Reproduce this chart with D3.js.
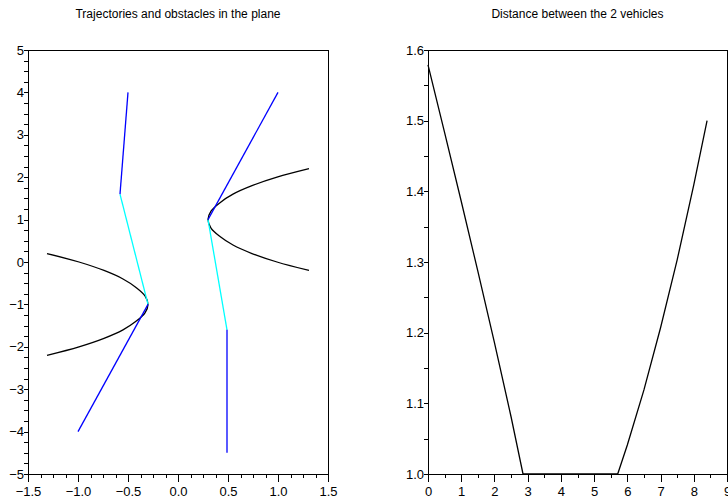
<!DOCTYPE html>
<html>
<head>
<meta charset="utf-8">
<script src="https://cdn.jsdelivr.net/npm/d3@7"></script>
<style>
body { margin: 0; background: #fff; }
svg { font-family: "Liberation Sans", Arial, sans-serif; }
.axis path { display: none; }
.axis line { stroke: #000; shape-rendering: crispEdges; }
.axis text { font-size: 13px; fill: #000; }
</style>
</head>
<body>
<div class="wrapper"></div>
<script>

// obstacles (parabolas)
const obstacle1X = [-1.31, -0.99, -0.74, -0.55, -0.42, -0.33, -0.30, -0.33, -0.42, -0.55, -0.74, -0.99, -1.31]
const obstacle1Y = [0.2, 0.0, -0.2, -0.4, -0.6, -0.8, -1.0, -1.2, -1.4, -1.6, -1.8, -2.0, -2.2]
const obstacle2X = [1.31, 0.99, 0.74, 0.55, 0.42, 0.33, 0.30, 0.33, 0.42, 0.55, 0.74, 0.99, 1.31]
const obstacle2Y = [2.2, 2.0, 1.8, 1.6, 1.4, 1.2, 1.0, 0.8, 0.6, 0.4, 0.2, 0.0, -0.2]

// vehicle 1 : free part, avoiding part, free part
const veh1FreeAX = [-1.0, -0.3]
const veh1FreeAY = [-4.0, -1.0]
const veh1AvoidX = [-0.3, -0.58]
const veh1AvoidY = [-1.0, 1.6]
const veh1FreeBX = [-0.58, -0.5]
const veh1FreeBY = [1.6, 4.0]

// vehicle 2
const veh2FreeAX = [0.49, 0.49]
const veh2FreeAY = [-4.5, -1.6]
const veh2AvoidX = [0.49, 0.3]
const veh2AvoidY = [-1.6, 1.0]
const veh2FreeBX = [0.3, 1.0]
const veh2FreeBY = [1.0, 4.0]

// distance between the 2 vehicles
const time = [0, 0.5, 1.0, 1.5, 2.0, 2.5, 2.86, 5.71, 6.0, 6.5, 7.0, 7.5, 8.0, 8.4]
const distance = [1.579, 1.483, 1.386, 1.287, 1.186, 1.081, 1.0, 1.0, 1.041, 1.119, 1.207, 1.303, 1.409, 1.5]

const xTicksLeft = [-1.5, -1.0, -0.5, 0.0, 0.5, 1.0, 1.5]
const yTicksLeft = [-5, -4, -3, -2, -1, 0, 1, 2, 3, 4, 5]
const xTicksRight = [0, 1, 2, 3, 4, 5, 6, 7, 8, 9]
const yTicksRight = [1.0, 1.1, 1.2, 1.3, 1.4, 1.5, 1.6]

const titles = ["Trajectories and obstacles in the plane", "Distance between the 2 vehicles"]


const svg = d3.select(".wrapper")
  .append("svg")
    .attr("width", 728)
    .attr("height", 503)

let dims = {
    top: 50,
    bottom: 474,
    left1: 28,
    right1: 328,
    left2: 428,
    right2: 727,
}

const xLeft = d3.scaleLinear().domain([-1.5, 1.5]).range([dims.left1, dims.right1])
const yLeft = d3.scaleLinear().domain([-5, 5]).range([dims.bottom, dims.top])
const xRight = d3.scaleLinear().domain([0, 9]).range([dims.left2, dims.right2])
const yRight = d3.scaleLinear().domain([1.0, 1.6]).range([dims.bottom, dims.top])

function drawAxes(x, y, xMajor, xMinor, yMajor, yMinor, xFmt, yFmt) {
  // minor ticks first
  svg.append("g")
    .attr("class", "axis")
    .attr("transform", `translate(0,${dims.bottom})`)
    .call(d3.axisBottom(x).tickValues(xMinor).tickSize(4).tickFormat(""))
  svg.append("g")
    .attr("class", "axis")
    .attr("transform", `translate(0,${dims.bottom})`)
    .call(d3.axisBottom(x).tickValues(xMajor).tickSize(8).tickPadding(5).tickFormat(xFmt))

  svg.append("g")
    .attr("class", "axis")
    .attr("transform", `translate(${x.range()[0]},0)`)
    .call(d3.axisLeft(y).tickValues(yMinor).tickSize(4).tickFormat(""))
  svg.append("g")
    .attr("class", "axis")
    .attr("transform", `translate(${x.range()[0]},0)`)
    .call(d3.axisLeft(y).tickValues(yMajor).tickSize(4).tickPadding(0).tickFormat(yFmt))

  svg.append("rect")
    .attr("x", x.range()[0])
    .attr("y", dims.top)
    .attr("width", x.range()[1] - x.range()[0])
    .attr("height", dims.bottom - dims.top)
    .attr("fill", "none")
    .attr("stroke", "#000")
    .attr("shape-rendering", "crispEdges")
}

const minorX1 = d3.range(-12, 13).map(i => i / 8)
const minorY1 = d3.range(-20, 21).map(i => i / 4)
const minorX2 = d3.range(0, 19).map(i => i / 2)
const minorY2 = d3.range(20, 33).map(i => i / 20)

drawAxes(xLeft, yLeft, xTicksLeft, minorX1, yTicksLeft, minorY1, d3.format(".1f"), d3.format("d"))
drawAxes(xRight, yRight, xTicksRight, minorX2, yTicksRight, minorY2, d3.format("d"), d3.format(".1f"))

// titles
svg.selectAll(".title")
  .data(titles)
  .enter()
  .append("text")
    .attr("class", "title")
    .attr("x", (d, i) => i == 0 ? (dims.left1 + dims.right1) / 2 : (dims.left2 + dims.right2) / 2)
    .attr("y", 18)
    .attr("text-anchor", "middle")
    .style("font-size", "12px")
    .text(d => d)

const zip = (xs, ys) => xs.map((v, i) => [v, ys[i]])

const lineLeft = d3.line()
  .x(d => xLeft(d[0]))
  .y(d => yLeft(d[1]))

const plot = svg.append("g")

// obstacles
const obstacles = [zip(obstacle1X, obstacle1Y), zip(obstacle2X, obstacle2Y)]
plot.selectAll(".obstacle")
  .data(obstacles)
  .enter()
  .append("path")
    .attr("d", lineLeft.curve(d3.curveCatmullRom))
    .attr("fill", "none")
    .attr("stroke", "#000")
    .attr("stroke-width", 1.3)

lineLeft.curve(d3.curveLinear)

// trajectories
const freeParts = [zip(veh1FreeAX, veh1FreeAY), zip(veh1FreeBX, veh1FreeBY), zip(veh2FreeAX, veh2FreeAY), zip(veh2FreeBX, veh2FreeBY)]
const avoidParts = [zip(veh1AvoidX, veh1AvoidY), zip(veh2AvoidX, veh2AvoidY)]

plot.selectAll(".avoid")
  .data(avoidParts)
  .enter()
  .append("path")
    .attr("d", lineLeft)
    .attr("fill", "none")
    .attr("stroke", "#00ffff")
    .attr("stroke-width", 1.3)

plot.selectAll(".free")
  .data(freeParts)
  .enter()
  .append("path")
    .attr("d", lineLeft)
    .attr("fill", "none")
    .attr("stroke", "#0000ff")
    .attr("stroke-width", 1.3)

// distance
const lineRight = d3.line()
  .x(d => xRight(d[0]))
  .y(d => yRight(d[1]))

svg.append("path")
  .datum(zip(time, distance))
  .attr("d", lineRight)
  .attr("fill", "none")
  .attr("stroke", "#000")
  .attr("stroke-width", 1.3)

</script>
</body>
</html>
